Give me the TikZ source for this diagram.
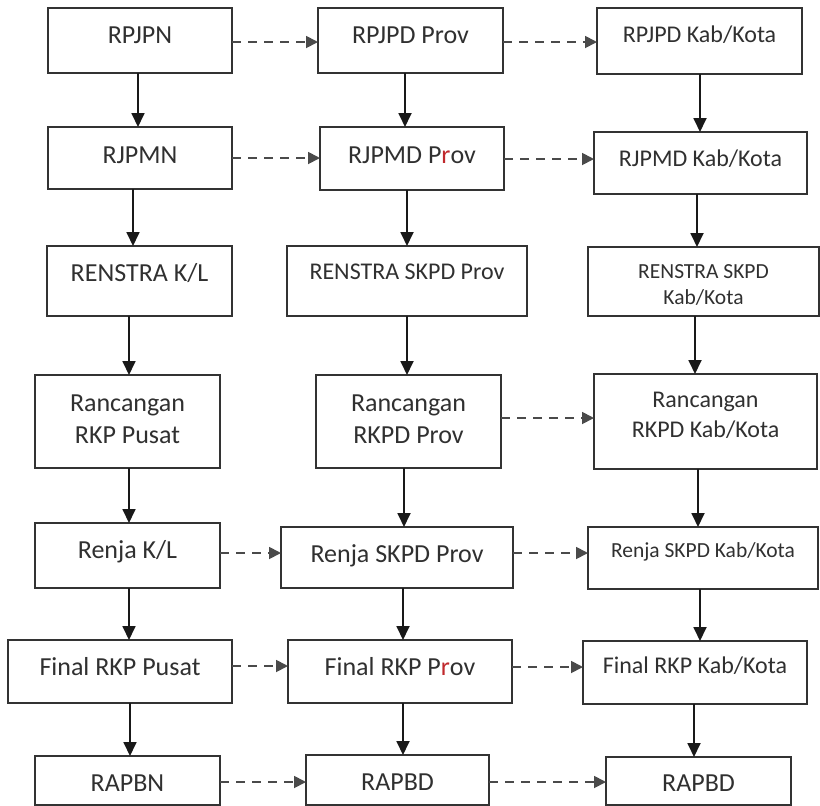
\documentclass[tikz,border=0pt]{standalone}
\usepackage{fontspec}
\setmainfont{Carlito}
\usetikzlibrary{arrows.meta}
\definecolor{ink}{HTML}{333333}
\definecolor{txt}{HTML}{303030}
\definecolor{dash}{HTML}{4A4A4A}
\definecolor{redr}{HTML}{C0282C}

\newcommand\pbox[5]{%
  \pgfmathsetmacro\bw{#4-#2}\pgfmathsetmacro\bh{#5-#3}%
  \node[box, minimum width=\bw pt, minimum height=\bh pt] (#1) at ({(#2+#4)/2},{(#3+#5)/2}) {};}

\begin{document}
\begin{tikzpicture}[x=1pt,y=-1pt,
  box/.style={draw=ink, line width=1.7pt, fill=none, inner sep=0pt, outer sep=0pt},
  lbl/.style={text=txt, anchor=base, inner sep=0pt, align=center},
  big/.style={font=\fontsize{26}{32}\selectfont},
  mid/.style={font=\fontsize{24}{30}\selectfont},
  small/.style={font=\fontsize{21.5}{26}\selectfont},
  down/.style={draw=black!90, line width=1.8pt, -{Triangle[width=13pt,length=14pt]}},
  across/.style={draw=dash, line width=1.8pt, dash pattern=on 9pt off 7pt, -{Triangle[width=12pt,length=12pt]}}]
\useasboundingbox (0,0) rectangle (820,806);

% boxes: name, left, top, right, bottom
\pbox{rpjpn}{48}{8}{232}{73}
\pbox{rpjpdp}{318}{8}{503}{73}
\pbox{rpjpdk}{597}{8}{802}{74}
\pbox{rjpmn}{48}{127}{232}{189}
\pbox{rjpmdp}{320}{127}{504}{190}
\pbox{rjpmdk}{594}{132}{807}{194}
\pbox{renkl}{47}{246}{232}{316}
\pbox{renp}{287}{246}{527}{316}
\pbox{renk}{588}{247}{819}{316}
\pbox{rancn}{35}{375}{220}{468}
\pbox{rancp}{316}{375}{501}{468}
\pbox{ranck}{594}{374}{817}{469}
\pbox{renjakl}{35}{523}{220}{588}
\pbox{renjap}{281}{527}{513}{588}
\pbox{renjak}{588}{527}{818}{589}
\pbox{finaln}{8}{640}{232}{703}
\pbox{finalp}{288}{640}{512}{703}
\pbox{finalk}{583}{641}{807}{704}
\pbox{rapbn}{35}{756}{220}{805}
\pbox{rapbdp}{306}{755}{489}{805}
\pbox{rapbdk}{606}{757}{791}{805}

% labels (anchored on the baseline of their last line)
\node[lbl,big] (t1) at (140,43) {RPJPN};
\node[lbl,big] (t2) at (410.5,43) {RPJPD Prov};
\node[lbl,mid] (t3) at (699.5,42) {RPJPD Kab/Kota};
\node[lbl,big] (t4) at (140,163) {RJPMN};
\node[lbl,big] (t5) at (412,163) {RJPMD P\textcolor{redr}{r}ov};
\node[lbl,mid] (t6) at (700.5,166) {RJPMD Kab/Kota};
\node[lbl,big] (t7) at (139.5,281) {RENSTRA K/L};
\node[lbl,mid] (t8) at (407,279) {RENSTRA SKPD Prov};
\node[lbl,small] (t9) at (703.5,304) {RENSTRA SKPD\\Kab/Kota};
\node[lbl,big] (t10) at (127.5,443) {Rancangan\\RKP Pusat};
\node[lbl,big] (t11) at (408.5,443) {Rancangan\\RKPD Prov};
\node[lbl,mid] (t12) at (705.5,437) {Rancangan\\RKPD Kab/Kota};
\node[lbl,big] (t13) at (127.5,558) {Renja K/L};
\node[lbl,big] (t14) at (397,562) {Renja SKPD Prov};
\node[lbl,small] (t15) at (703,557) {Renja SKPD Kab/Kota};
\node[lbl,big] (t16) at (120,675) {Final RKP Pusat};
\node[lbl,big] (t17) at (400,675) {Final RKP P\textcolor{redr}{r}ov};
\node[lbl,mid] (t18) at (695,673) {Final RKP Kab/Kota};
\node[lbl,big] (t19) at (127.5,791) {RAPBN};
\node[lbl,big] (t20) at (397.5,790) {RAPBD};
\node[lbl,big] (t21) at (698.5,791) {RAPBD};

% vertical flow, national column
\draw[down] (rpjpn.south -| 138,0) -- (rjpmn.north -| 138,0);
\draw[down] (rjpmn.south -| 133,0) -- (renkl.north -| 133,0);
\draw[down] (renkl.south -| 129,0) -- (rancn.north -| 129,0);
\draw[down] (rancn.south -| 129,0) -- (renjakl.north -| 129,0);
\draw[down] (renjakl.south -| 129,0) -- (finaln.north -| 129,0);
\draw[down] (finaln.south -| 130,0) -- (rapbn.north -| 130,0);
% vertical flow, province column
\draw[down] (rpjpdp.south -| 405,0) -- (rjpmdp.north -| 405,0);
\draw[down] (rjpmdp.south -| 407,0) -- (renp.north -| 407,0);
\draw[down] (renp.south -| 407,0) -- (rancp.north -| 407,0);
\draw[down] (rancp.south -| 404,0) -- (renjap.north -| 404,0);
\draw[down] (renjap.south -| 403,0) -- (finalp.north -| 403,0);
\draw[down] (finalp.south -| 403,0) -- (rapbdp.north -| 403,0);
% vertical flow, regency/city column
\draw[down] (rpjpdk.south -| 700,0) -- (rjpmdk.north -| 700,0);
\draw[down] (rjpmdk.south -| 697,0) -- (renk.north -| 697,0);
\draw[down] (renk.south -| 695,0) -- (ranck.north -| 695,0);
\draw[down] (ranck.south -| 698,0) -- (renjak.north -| 698,0);
\draw[down] (renjak.south -| 700,0) -- (finalk.north -| 700,0);
\draw[down] (finalk.south -| 694,0) -- (rapbdk.north -| 694,0);

% dashed links between levels
\draw[across] (rpjpn.east |- 0,42) -- (rpjpdp.west |- 0,42);
\draw[across] (rpjpdp.east |- 0,42) -- (rpjpdk.west |- 0,42);
\draw[across] (rjpmn.east |- 0,158) -- (rjpmdp.west |- 0,158);
\draw[across] (rjpmdp.east |- 0,159) -- (rjpmdk.west |- 0,159);
\draw[across] (rancp.east |- 0,418) -- (ranck.west |- 0,418);
\draw[across] (renjakl.east |- 0,553) -- (renjap.west |- 0,553);
\draw[across] (renjap.east |- 0,553) -- (renjak.west |- 0,553);
\draw[across] (finaln.east |- 0,666) -- (finalp.west |- 0,666);
\draw[across] (finalp.east |- 0,667) -- (finalk.west |- 0,667);
\draw[across] (rapbn.east |- 0,782) -- (rapbdp.west |- 0,782);
\draw[across] (rapbdp.east |- 0,782) -- (rapbdk.west |- 0,782);
\end{tikzpicture}
\end{document}
